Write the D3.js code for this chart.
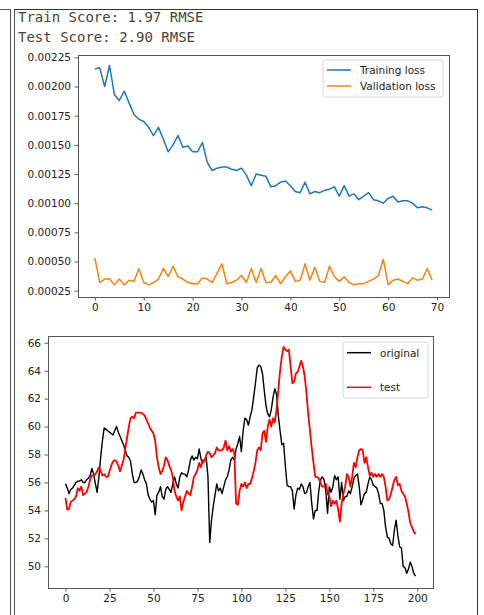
<!DOCTYPE html>
<html>
<head>
<meta charset="utf-8">
<script src="https://cdn.jsdelivr.net/npm/d3@7"></script>
<style>
  body { margin: 0; background: #fff; }
  svg text { font-family: "DejaVu Sans", sans-serif; }
</style>
</head>
<body>
<svg id="chart" width="484" height="615"></svg>
<script>
// score lines printed above the plots
var scoreLines = ["Train Score: 1.97 RMSE", "Test Score: 2.90 RMSE"];

// epochs 0..69
var trainLoss = [0.00215,0.00216,0.00200,0.00218,0.00193,0.00188,0.00196,0.00186,0.00176,0.00172,
  0.00170,0.00165,0.00158,0.00165,0.00155,0.00144,0.00150,0.00158,0.00148,0.00149,
  0.00144,0.00144,0.00152,0.00135,0.00128,0.00130,0.00131,0.00131,0.00129,0.00128,
  0.00130,0.00124,0.00115,0.00125,0.00124,0.00123,0.00114,0.00115,0.00118,0.00119,
  0.00115,0.00110,0.00109,0.00118,0.00108,0.00110,0.00109,0.00111,0.00112,0.00114,
  0.00106,0.00115,0.00106,0.00108,0.00103,0.00106,0.00109,0.00103,0.00102,0.00100,
  0.00104,0.00106,0.00101,0.00102,0.00102,0.00100,0.00096,0.00097,0.00096,0.00094];
var valLoss = [0.00053,0.00032,0.00035,0.00035,0.00030,0.00035,0.00030,0.00034,0.00033,0.00044,
  0.00032,0.00030,0.00032,0.00035,0.00044,0.00037,0.00046,0.00037,0.00035,0.00032,
  0.00031,0.00031,0.00036,0.00035,0.00032,0.00040,0.00048,0.00031,0.00032,0.00034,
  0.00038,0.00032,0.00044,0.00032,0.00044,0.00032,0.00032,0.00038,0.00031,0.00037,
  0.00042,0.00033,0.00034,0.00048,0.00034,0.00045,0.00033,0.00032,0.00046,0.00037,
  0.00033,0.00037,0.00032,0.00030,0.00031,0.00031,0.00033,0.00035,0.00038,0.00052,
  0.00030,0.00034,0.00035,0.00033,0.00031,0.00036,0.00034,0.00035,0.00044,0.00034];
var lossTicksY = [0.00025,0.0005,0.00075,0.001,0.00125,0.0015,0.00175,0.002,0.00225];
var lossTicksX = [0,10,20,30,40,50,60,70];

// samples 0..199
var original = [55.9,55.6,55.2,55.5,55.6,55.8,56.0,56.1,56.1,56.2,
  56.0,56.0,56.2,56.3,56.5,57.0,56.6,55.9,55.3,56.4,
  57.8,59.0,59.9,59.8,59.7,59.6,59.5,59.4,59.7,60.0,
  59.6,59.3,59.0,58.7,58.3,57.9,57.8,57.5,56.6,56.0,
  56.0,56.1,56.4,56.9,56.6,56.2,55.9,55.1,54.8,54.6,
  54.7,53.7,55.1,55.3,55.7,55.0,54.8,55.5,55.7,55.5,
  55.3,55.9,56.4,55.9,55.6,56.4,56.7,56.6,56.6,56.4,
  56.9,57.6,57.9,57.6,57.8,57.7,58.4,57.7,57.4,57.6,
  57.8,56.4,51.7,53.3,54.3,55.1,55.9,55.4,55.6,55.2,
  55.7,56.2,56.4,56.9,57.6,57.8,57.6,58.4,58.8,59.3,
  58.2,59.7,60.6,60.5,60.1,60.7,61.2,62.1,63.1,64.2,
  64.4,64.3,63.8,62.6,61.5,60.9,60.7,61.2,62.1,62.7,
  62.3,60.8,59.7,58.7,58.8,57.2,55.8,55.7,55.7,55.4,
  54.1,55.1,55.6,55.5,55.9,55.7,55.2,55.3,55.7,56.0,
  54.5,53.4,54.0,54.0,55.4,56.2,56.4,56.2,55.4,53.8,
  55.7,55.3,55.7,56.5,56.2,56.4,54.8,56.0,54.7,55.0,
  55.0,55.4,55.2,55.7,56.3,56.5,56.6,55.7,54.4,54.8,
  55.2,55.3,55.9,56.4,56.2,55.8,55.7,55.6,55.2,54.5,
  54.5,54.0,52.8,52.1,52.0,51.6,51.5,52.6,53.3,52.2,
  51.4,51.3,50.0,49.9,49.5,49.8,50.3,50.0,49.5,49.3];
var predicted = [54.9,54.05,54.1,54.6,54.7,54.8,55.0,55.6,55.4,55.7,
  55.1,55.2,55.3,55.7,56.2,56.5,56.5,56.6,56.8,57.1,
  56.8,56.5,56.6,56.4,56.4,56.8,57.2,57.5,57.6,57.5,
  57.2,56.8,57.2,57.6,58.4,59.2,60.0,60.6,60.7,60.6,
  61.0,61.0,61.0,61.0,60.9,60.8,60.5,60.2,59.9,59.7,
  59.5,59.0,57.8,57.1,56.6,56.8,57.2,57.8,57.6,57.2,
  56.9,56.4,55.4,55.0,54.7,55.0,54.0,54.6,55.0,55.4,
  55.2,55.1,55.7,56.4,56.6,56.9,57.4,57.1,57.6,57.5,
  57.95,58.2,58.1,57.8,57.95,58.1,58.5,58.3,58.3,58.3,
  58.5,59.0,58.3,58.6,58.2,58.4,58.1,54.5,54.4,55.4,
  55.9,55.7,56.0,55.6,55.9,55.9,56.3,56.8,57.4,58.3,
  58.5,58.3,59.5,59.7,58.9,60.0,60.5,60.0,60.6,60.3,
  61.2,62.6,64.0,65.0,65.7,65.5,65.4,65.5,64.3,63.1,
  63.2,63.8,63.9,64.3,64.7,64.3,63.6,62.4,60.9,59.7,
  58.5,57.4,56.4,56.4,56.3,56.0,55.7,55.7,55.9,55.2,
  55.0,54.3,54.7,54.5,54.7,54.1,53.2,54.5,55.2,55.7,
  56.6,56.4,55.7,56.4,57.4,57.1,57.8,58.3,58.4,58.3,
  57.4,57.8,57.1,56.5,56.7,56.4,56.6,56.4,56.6,56.4,
  56.6,56.4,55.7,54.7,54.8,55.2,55.7,56.2,56.4,55.8,
  55.9,55.4,55.2,55.0,54.5,53.9,53.1,52.8,52.5,52.3];
var priceTicksY = [50,52,54,56,58,60,62,64,66];
var priceTicksX = [0,25,50,75,100,125,150,175,200];

var svg = d3.select("#chart");

/// notebook cell frame ///
svg.append("rect").attr("width", 484).attr("height", 615).attr("fill", "#fff");
var frame = svg.append("g").attr("fill", "none").attr("stroke", "#555").attr("stroke-width", 1);
frame.append("line").attr("x1", 0).attr("x2", 10).attr("y1", 9.5).attr("y2", 9.5);
frame.append("line").attr("x1", 10.5).attr("x2", 10.5).attr("y1", 9).attr("y2", 615);
frame.append("line").attr("x1", 14.5).attr("x2", 14.5).attr("y1", 9).attr("y2", 615);
frame.append("line").attr("x1", 14).attr("x2", 477).attr("y1", 9.5).attr("y2", 9.5).attr("stroke", "#333");
frame.append("line").attr("x1", 477.5).attr("x2", 477.5).attr("y1", 9).attr("y2", 615).attr("stroke", "#333");

svg.append("g").selectAll("text")
  .data(scoreLines)
  .enter().append("text")
    .attr("x", 18)
    .attr("y", function(d, i) { return 22 + i * 20; })
    .style("font-family", "'DejaVu Sans Mono', monospace")
    .attr("font-size", 14)
    .attr("fill", "#4a4238")
    .text(function(d) { return d; });

/// one matplotlib style panel ///
function panel(box, xDomain, yDomain, xTicks, yTicks, yFormat) {
  var x = d3.scaleLinear().domain(xDomain).range([box.left, box.right]);
  var y = d3.scaleLinear().domain(yDomain).range([box.bottom, box.top]);

  var g = svg.append("g");

  g.append("g")
    .attr("transform", "translate(0," + box.bottom + ")")
    .call(d3.axisBottom(x).tickValues(xTicks).tickSize(3.5).tickPadding(3.5).tickFormat(d3.format("d")))
    .call(styleAxis);

  g.append("g")
    .attr("transform", "translate(" + box.left + ",0)")
    .call(d3.axisLeft(y).tickValues(yTicks).tickSize(3.5).tickPadding(3.5).tickFormat(yFormat))
    .call(styleAxis);

  g.append("rect")
    .attr("x", box.left + 0.5).attr("y", box.top + 0.5)
    .attr("width", box.right - box.left).attr("height", box.bottom - box.top)
    .attr("fill", "none").attr("stroke", "#555").attr("stroke-width", 1);

  return {x: x, y: y, g: g};
}

function styleAxis(sel) {
  sel.select(".domain").remove();
  sel.selectAll(".tick line").attr("stroke", "#333").attr("stroke-width", 0.8);
  sel.selectAll(".tick text").attr("font-size", 10.5).attr("fill", "#222")
    .attr("font-family", "DejaVu Sans, sans-serif");
}

function drawLine(p, values, color, width) {
  var line = d3.line()
    .x(function(d, i) { return p.x(i); })
    .y(function(d) { return p.y(d); });
  p.g.append("path")
    .datum(values)
    .attr("d", line)
    .attr("fill", "none")
    .attr("stroke", color)
    .attr("stroke-width", width)
    .attr("stroke-linejoin", "round");
}

function legend(p, box, entries) {
  var lg = p.g.append("g");
  lg.append("rect")
    .attr("x", box.x).attr("y", box.y).attr("width", box.w).attr("height", box.h)
    .attr("rx", 2).attr("fill", "#fff").attr("fill-opacity", 0.8)
    .attr("stroke", "#d6d6d6").attr("stroke-width", 1);
  entries.forEach(function(e) {
    lg.append("line")
      .attr("x1", box.x + 4).attr("x2", box.x + 28)
      .attr("y1", e.y).attr("y2", e.y)
      .attr("stroke", e.color).attr("stroke-width", e.width);
    lg.append("text")
      .attr("x", box.x + 37).attr("y", e.y + 3.8)
      .attr("font-size", 10.5).attr("fill", "#222")
      .text(e.label);
  });
}

/// loss plot ///
var lossPlot = panel({left: 78, right: 449, top: 55, bottom: 297},
  [-3.45, 72.45], [0.000196, 0.00227], lossTicksX, lossTicksY, d3.format(".5f"));
drawLine(lossPlot, trainLoss, "#1f77b4", 1.5);
drawLine(lossPlot, valLoss, "#ff7f0e", 1.5);
legend(lossPlot, {x: 323, y: 60, w: 120, h: 37}, [
  {label: "Training loss", color: "#1f77b4", width: 1.5, y: 70},
  {label: "Validation loss", color: "#ff7f0e", width: 1.5, y: 86}
]);

/// price plot ///
var pricePlot = panel({left: 48, right: 433, top: 336, bottom: 588},
  [-9.95, 208.95], [48.45, 66.48], priceTicksX, priceTicksY, d3.format("d"));
drawLine(pricePlot, original, "#000", 1.4);
drawLine(pricePlot, predicted, "#ff0000", 1.8);
legend(pricePlot, {x: 343, y: 342, w: 85, h: 56}, [
  {label: "original", color: "#000", width: 1.5, y: 352.7},
  {label: "test", color: "#ff0000", width: 1.5, y: 387.3}
]);
</script>
</body>
</html>
